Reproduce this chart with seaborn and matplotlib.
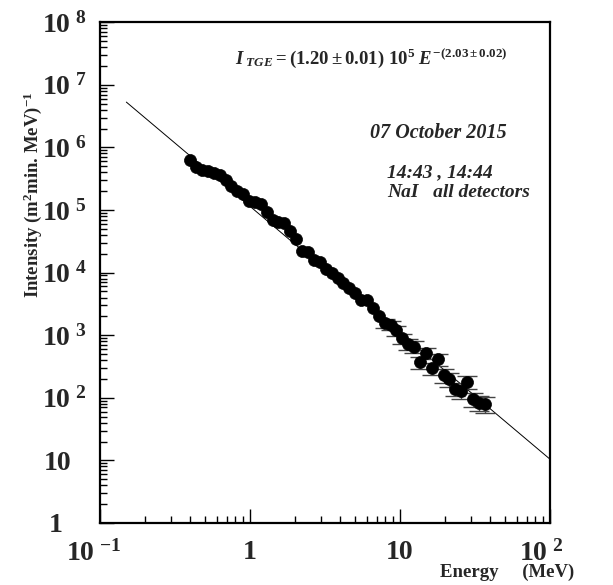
import matplotlib
matplotlib.use('Agg')
import matplotlib.pyplot as plt
import matplotlib.transforms as mtransforms
import seaborn as sns
import pandas as pd
from matplotlib.ticker import LogLocator, FixedLocator, FixedFormatter, NullFormatter

# measured spectrum (NaI, all detectors)
energy = [0.40, 0.438, 0.479, 0.525, 0.574, 0.629, 0.688, 0.753, 0.825, 0.903,
          0.988, 1.08, 1.18, 1.30, 1.42, 1.55, 1.70, 1.86, 2.04, 2.23,
          2.44, 2.67, 2.93, 3.20, 3.51, 3.84, 4.20, 4.60, 5.04, 5.51,
          6.04, 6.61, 7.23, 7.92, 8.67, 9.49, 10.4, 11.4, 12.4, 13.6,
          14.9, 16.3, 17.9, 19.6, 21.4, 23.4, 25.7, 28.1, 30.7, 33.7, 36.9]
intensity = [6.2e5, 4.8e5, 4.3e5, 4.2e5, 3.9e5, 3.6e5, 3.0e5, 2.4e5, 2.0e5, 1.8e5,
             1.4e5, 1.35e5, 1.26e5, 9.4e4, 6.9e4, 6.5e4, 6.3e4, 4.6e4, 3.4e4, 2.2e4,
             2.1e4, 1.6e4, 1.5e4, 1.16e4, 1.0e4, 8.3e3, 6.9e3, 5.6e3, 4.8e3, 3.6e3,
             3.7e3, 2.7e3, 2.0e3, 1.55e3, 1.45e3, 1.2e3, 8.9e2, 7.2e2, 6.6e2, 3.7e2,
             5.2e2, 3.0e2, 4.1e2, 2.3e2, 2.0e2, 1.4e2, 1.3e2, 1.8e2, 95, 84, 80]
# error bars only show where they stick out of the markers
error = [0, 0, 0, 0, 0, 0, 0, 0, 0, 0,
         0, 0, 0, 0, 0, 0, 0, 0, 0, 0,
         0, 0, 0, 0, 0, 0, 0, 0, 0, 0,
         0, 0, 0, 2.5e2, 2.5e2, 2.2e2, 1.7e2, 1.5e2, 1.4e2, 80,
         110, 65, 85, 55, 50, 35, 33, 40, 25, 23, 23]

# power-law fit line end points
fit_energy = [0.15, 100]
fit_intensity = [5.3e6, 10.5]

y_ticks = [1, 10, 1e2, 1e3, 1e4, 1e5, 1e6, 1e7, 1e8]
y_labels = ['1', '10', r'$10^{\ 2}$', r'$10^{\ 3}$', r'$10^{\ 4}$', r'$10^{\ 5}$',
            r'$10^{\ 6}$', r'$10^{\ 7}$', r'$10^{\ 8}$']
x_ticks = [0.1, 1, 10, 100]
x_labels = [r'$10^{\ \mathregular{-1}}$', '1', '10', r'$10^{\ 2}$']

df = pd.DataFrame({'Energy': energy, 'Intensity': intensity, 'Err': error})
df_err = df[df['Err'] > 0]

sns.set_style('ticks')
plt.rcParams['font.family'] = ['Liberation Serif', 'DejaVu Serif']
plt.rcParams['font.weight'] = 'bold'
plt.rcParams['mathtext.fontset'] = 'custom'
plt.rcParams['mathtext.rm'] = 'Liberation Serif:bold'
plt.rcParams['mathtext.bf'] = 'Liberation Serif:bold'
plt.rcParams['mathtext.it'] = 'Liberation Serif:bold:italic'

fig = plt.figure(figsize=(6.13, 5.85), dpi=100)
ax = fig.add_axes([0.163, 0.106, 0.734, 0.856])

sns.lineplot(x=fit_energy, y=fit_intensity, color='black', linewidth=0.7, ax=ax)
ax.errorbar(df_err['Energy'], df_err['Intensity'], yerr=df_err['Err'], fmt='none',
            ecolor='#444444', elinewidth=1.0, capsize=7, capthick=1.0, zorder=3)
sns.scatterplot(data=df, x='Energy', y='Intensity', color='black', s=75,
                edgecolor='black', linewidth=0.5, ax=ax, zorder=4)

ax.set_xscale('log')
ax.set_yscale('log')
ax.set_xlim(0.1, 100)
ax.set_ylim(1, 1e8)

ax.yaxis.set_major_locator(FixedLocator(y_ticks))
ax.yaxis.set_major_formatter(FixedFormatter(y_labels))
ax.xaxis.set_major_locator(FixedLocator(x_ticks))
ax.xaxis.set_major_formatter(FixedFormatter(x_labels))
ax.yaxis.set_minor_locator(LogLocator(base=10, subs=range(2, 10), numticks=20))
ax.xaxis.set_minor_locator(LogLocator(base=10, subs=range(2, 10), numticks=20))
ax.yaxis.set_minor_formatter(NullFormatter())
ax.xaxis.set_minor_formatter(NullFormatter())

ax.tick_params(which='both', direction='in', top=False, right=False, width=1, color='black')
ax.tick_params(which='major', length=10, labelsize=20)
ax.tick_params(which='minor', length=5)
ax.tick_params(axis='y', pad=10)
ax.tick_params(axis='x', pad=12)
for s in ax.spines.values():
    s.set_linewidth(1.6)
    s.set_color('black')

# nudge some tick labels sideways, like the original ROOT layout
y_shift = {0: -23, 1: -15}
for i, tick in enumerate(ax.yaxis.get_major_ticks()):
    if i in y_shift:
        off = mtransforms.ScaledTranslation(y_shift[i] / 100, 0, fig.dpi_scale_trans)
        tick.label1.set_transform(tick.label1.get_transform() + off)
x_shift = {0: -6, 3: -9}
for i, tick in enumerate(ax.xaxis.get_major_ticks()):
    if i in x_shift:
        off = mtransforms.ScaledTranslation(x_shift[i] / 100, 0, fig.dpi_scale_trans)
        tick.label1.set_transform(tick.label1.get_transform() + off)

ax.set_ylabel(r'Intensity (m$^{2}$min. MeV)$^{-1}$', fontsize=13.5, fontweight='bold')
ax.yaxis.set_label_coords(-0.125, 0.655)
ax.set_xlabel('Energy     (MeV)', fontsize=13.5, fontweight='bold')
ax.xaxis.set_label_coords(0.905, -0.082)

ax.text(0.30, 0.928,
        r'$I_{\ TGE} = \mathit{(1.20}\pm\mathit{0.01)\ 10^{5}\ E^{-(2.03\pm0.02)}}$',
        transform=ax.transAxes, fontsize=13.5, va='center', ha='left')
ax.text(0.60, 0.778, '07 October 2015', transform=ax.transAxes, fontsize=14.5,
        fontstyle='italic', fontweight='bold', va='center', ha='left')
ax.text(0.638, 0.699, '14:43 , 14:44', transform=ax.transAxes, fontsize=14,
        fontstyle='italic', fontweight='bold', va='center', ha='left')
ax.text(0.638, 0.659, 'NaI   all detectors', transform=ax.transAxes, fontsize=14,
        fontstyle='italic', fontweight='bold', va='center', ha='left')

fig.savefig('out.png', dpi=100)
